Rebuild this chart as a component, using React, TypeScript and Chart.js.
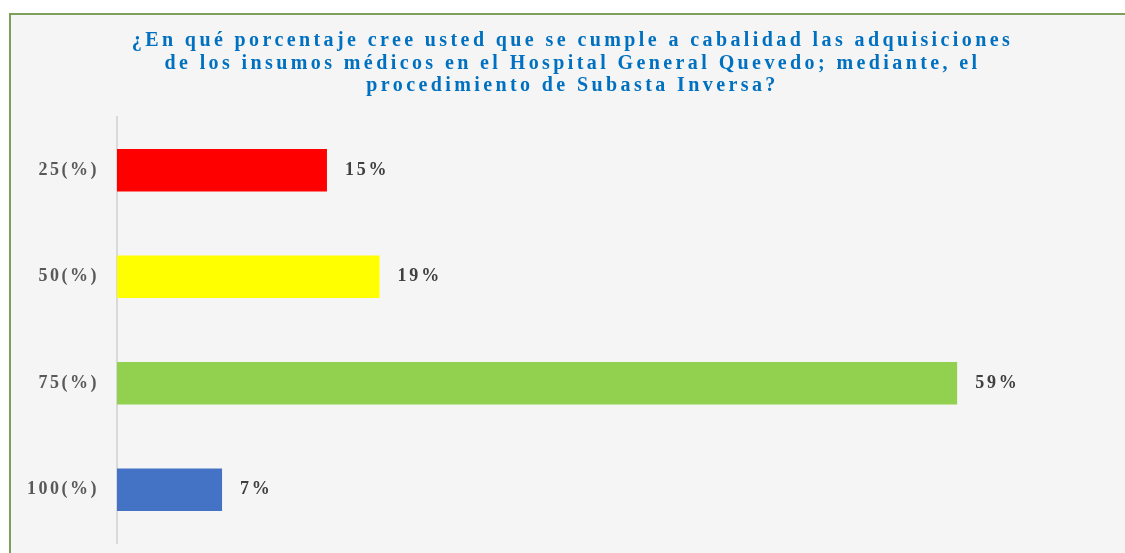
import React, { useEffect, useRef } from "react";
import { Chart, registerables } from "chart.js";

Chart.register(...registerables);

const categories: string[] = ["25(%)", "50(%)", "75(%)", "100(%)"];
const values: number[] = [14.81, 18.52, 59.26, 7.41];
const valueLabels: string[] = ["15%", "19%", "59%", "7%"];
const barColors: string[] = ["#FF0000", "#FFFF00", "#92D050", "#4472C4"];
const titleLines: string[] = [
  "¿En qué porcentaje cree usted que se cumple a cabalidad las adquisiciones",
  "de los insumos médicos en el Hospital General Quevedo; mediante, el",
  "procedimiento de Subasta Inversa?",
];
const axisMax = 71.1;

const SERIF = '"Liberation Serif", "Times New Roman", serif';

const framePlugin = {
  id: "framePlugin",
  beforeDraw(chart: any) {
    const ctx = chart.ctx as CanvasRenderingContext2D;
    ctx.save();
    ctx.fillStyle = "#F5F5F5";
    ctx.fillRect(10, 14, chart.width - 10, chart.height - 14);
    ctx.strokeStyle = "#7CA05C";
    ctx.lineWidth = 2;
    ctx.beginPath();
    ctx.moveTo(10, chart.height + 5);
    ctx.lineTo(10, 14);
    ctx.lineTo(chart.width + 5, 14);
    ctx.stroke();
    ctx.restore();
    (ctx as any).letterSpacing = "3.4px";
  },
  afterDatasetsDraw(chart: any) {
    const ctx = chart.ctx as CanvasRenderingContext2D;
    (ctx as any).letterSpacing = "2.8px";
    const meta = chart.getDatasetMeta(0);
    ctx.save();
    ctx.font = `bold 18px ${SERIF}`;
    ctx.fillStyle = "#404040";
    ctx.textAlign = "left";
    ctx.textBaseline = "middle";
    meta.data.forEach((bar: any, i: number) => {
      ctx.fillText(valueLabels[i], bar.x + 18, bar.y);
    });
    ctx.restore();
    (ctx as any).letterSpacing = "2.5px";
  },
};

export default function App() {
  const canvasRef = useRef<HTMLCanvasElement | null>(null);

  useEffect(() => {
    if (!canvasRef.current) return;
    const chart = new Chart(canvasRef.current, {
      type: "bar",
      data: {
        labels: categories,
        datasets: [
          {
            data: values,
            backgroundColor: barColors,
            borderWidth: 0,
            barPercentage: 0.4,
            categoryPercentage: 1,
          },
        ],
      },
      options: {
        indexAxis: "y",
        responsive: false,
        animation: false,
        layout: { padding: { left: 20, right: 0, top: 0, bottom: 10 } },
        plugins: {
          legend: { display: false },
          tooltip: { enabled: false },
          title: {
            display: true,
            text: titleLines,
            color: "#0070C0",
            font: { family: SERIF, size: 20, weight: "bold", lineHeight: 1.125 },
            padding: { top: 30, bottom: 19.5 },
          },
        },
        scales: {
          x: {
            display: false,
            min: 0,
            max: axisMax,
          },
          y: {
            grid: { display: false, drawTicks: false },
            border: { display: true, color: "#D9D9D9", width: 2 },
            ticks: {
              z: 1,
              color: "#595959",
              font: { family: SERIF, size: 18, weight: "bold" },
              padding: 18,
            },
            afterFit(scale: any) {
              scale.width = 97;
              scale.paddingTop = 0;
              scale.paddingBottom = 0;
            },
          },
        },
      },
      plugins: [framePlugin],
    });
    return () => chart.destroy();
  }, []);

  return (
    <div style={{ position: "absolute", left: 0, top: 0, width: 1125, height: 553, background: "#FFFFFF" }}>
      <canvas ref={canvasRef} width={1125} height={553} style={{ display: "block" }} />
    </div>
  );
}
